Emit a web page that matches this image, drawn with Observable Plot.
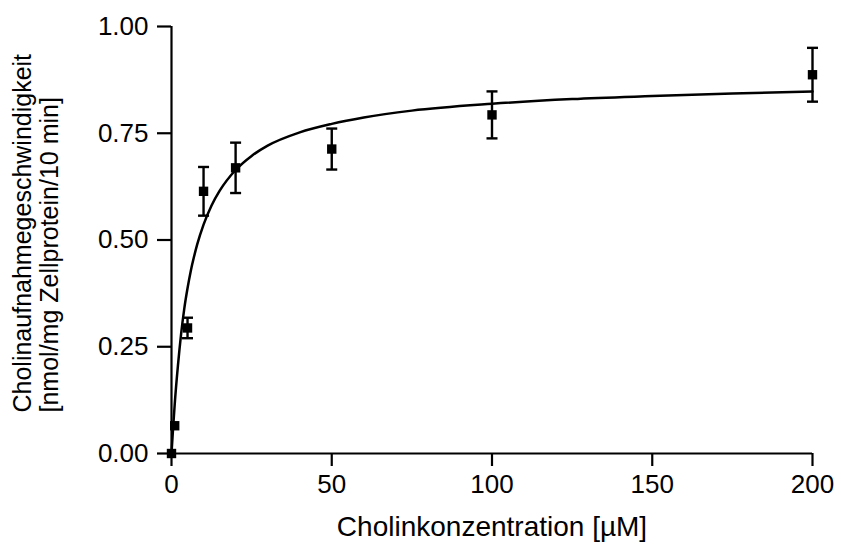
<!DOCTYPE html>
<html>
<head>
<meta charset="utf-8">
<script src="https://cdn.jsdelivr.net/npm/d3@7"></script>
<script src="https://cdn.jsdelivr.net/npm/@observablehq/plot@0.6"></script>
<style>
  html, body { margin: 0; padding: 0; background: white; }
</style>
</head>
<body>
<div id="chart"></div>
<script>
// Measured data (concentration in µM, uptake rate, SEM)
const conc   = [0, 1, 5, 10, 20, 50, 100, 200];
const rate   = [0, 0.065, 0.294, 0.614, 0.669, 0.713, 0.793, 0.887];
const sem    = [null, null, 0.024, 0.057, 0.059, 0.048, 0.055, 0.063];

// Fitted curve
const fitX = [0, 0.5, 1, 2, 3, 4, 5, 6, 7, 8, 10, 12.5, 15, 20, 25, 30, 40, 50, 60, 75, 100, 125, 150, 175, 200];
const fitY = [0, 0.06, 0.115, 0.205, 0.28, 0.34, 0.387, 0.427, 0.46, 0.489, 0.536, 0.581, 0.615, 0.664, 0.697, 0.721, 0.752, 0.772, 0.787, 0.803, 0.819, 0.83, 0.837, 0.843, 0.848];

const xTicks = [0, 50, 100, 150, 200];
const yTicks = [0, 0.25, 0.5, 0.75, 1];
const xLabel = "Cholinkonzentration [µM]";
const yLabel1 = "Cholinaufnahmegeschwindigkeit";
const yLabel2 = "[nmol/mg Zellprotein/10 min]";

const points = conc.map((c, i) => ({x: c, y: rate[i], e: sem[i]}));
const errPts = points.filter(d => d.e != null);
const fit = fitX.map((x, i) => ({x, y: fitY[i]}));

const capSymbol = {
  draw(ctx, size) {
    const w = Math.sqrt(size / Math.PI);
    ctx.moveTo(-w, 0);
    ctx.lineTo(w, 0);
  }
};

const font = "'Liberation Sans', Arial, Helvetica, sans-serif";

const chart = Plot.plot({
  width: 841,
  height: 546,
  marginTop: 26,
  marginRight: 29,
  marginBottom: 93,
  marginLeft: 171,
  style: {fontFamily: font, background: "white", color: "black"},
  x: {domain: [0, 200]},
  y: {domain: [0, 1]},
  marks: [
    Plot.axisX({ticks: xTicks, tickSize: 13, tickPadding: 8, fontSize: 26, strokeWidth: 2.2, label: null}),
    Plot.axisY({ticks: yTicks, tickFormat: d3.format(".2f"), tickSize: 14, tickPadding: 9, fontSize: 26, strokeWidth: 2.2, label: null}),
    Plot.ruleX([0], {stroke: "black", strokeWidth: 2.2}),
    Plot.ruleY([0], {stroke: "black", strokeWidth: 2.2}),
    Plot.line(fit, {x: "x", y: "y", curve: "monotone-x", stroke: "black", strokeWidth: 2.5}),
    Plot.ruleX(errPts, {x: "x", y1: d => d.y - d.e, y2: d => d.y + d.e, stroke: "black", strokeWidth: 2.4}),
    Plot.dot(errPts, {x: "x", y: d => d.y + d.e, symbol: capSymbol, r: 5.5, stroke: "black", fill: "none", strokeWidth: 2.4}),
    Plot.dot(errPts, {x: "x", y: d => d.y - d.e, symbol: capSymbol, r: 5.5, stroke: "black", fill: "none", strokeWidth: 2.4}),
    Plot.dot(points, {x: "x", y: "y", symbol: "square", r: 5.3, fill: "black", stroke: "none"}),
    Plot.text([xLabel], {frameAnchor: "bottom", dy: 74, lineAnchor: "middle", fontSize: 28, fill: "black"}),
    Plot.text([yLabel1], {frameAnchor: "bottom-left", rotate: -90, textAnchor: "start", lineAnchor: "middle", fontSize: 25, dx: -149, dy: -41, fill: "black"}),
    Plot.text([yLabel2], {frameAnchor: "bottom-left", rotate: -90, textAnchor: "start", lineAnchor: "middle", fontSize: 25, dx: -122, dy: -41, fill: "black"})
  ]
});
document.getElementById("chart").appendChild(chart);
</script>
</body>
</html>
